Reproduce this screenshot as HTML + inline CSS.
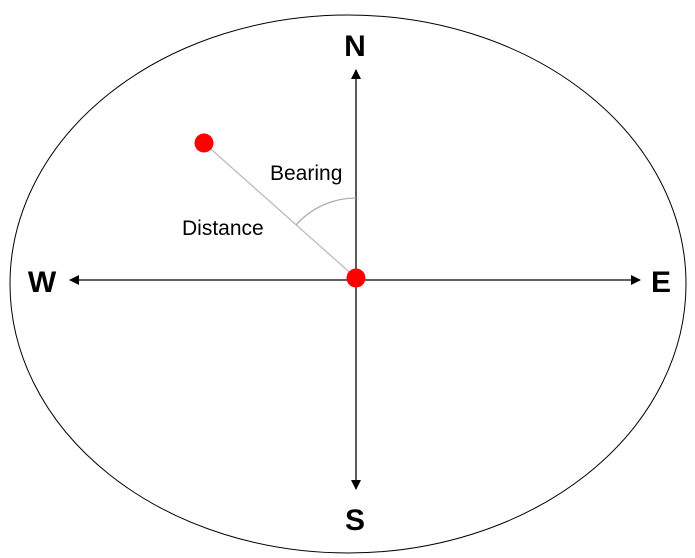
<!DOCTYPE html>
<html><head><meta charset="utf-8"><style>
html,body{margin:0;padding:0;background:#fff;width:695px;height:558px;overflow:hidden}
text{font-family:"Liberation Sans",sans-serif}
</style></head><body>
<svg width="695" height="558" viewBox="0 0 695 558">
<defs><marker id="ah" markerWidth="10" markerHeight="10" refX="9" refY="5" orient="auto" markerUnits="userSpaceOnUse"><path d="M0,0 L10,5 L0,10 z" fill="#000"/></marker></defs>
<ellipse cx="348" cy="284" rx="338" ry="269" fill="none" stroke="#000" stroke-width="1"/>
<line x1="356" y1="279" x2="356" y2="70" stroke="#000" stroke-width="1.3" marker-end="url(#ah)"/>
<line x1="356" y1="279" x2="356" y2="489" stroke="#000" stroke-width="1.3" marker-end="url(#ah)"/>
<line x1="356" y1="280" x2="70" y2="280" stroke="#000" stroke-width="1.3" marker-end="url(#ah)"/>
<line x1="356" y1="280" x2="640" y2="280" stroke="#000" stroke-width="1.3" marker-end="url(#ah)"/>
<line x1="204" y1="143" x2="356" y2="278" stroke="#bbb" stroke-width="1.3"/>
<path d="M356,198 A80,80 0 0 0 296,225" fill="none" stroke="#aaa" stroke-width="1.3"/>
<circle cx="204" cy="143" r="9.5" fill="#f00"/>
<circle cx="356" cy="278" r="9.5" fill="#f00"/>
<text x="270" y="180" font-size="21">Bearing</text>
<text x="182" y="235" font-size="21">Distance</text>
<text x="355" y="56" font-size="30" font-weight="bold" text-anchor="middle">N</text>
<text x="355" y="530" font-size="30" font-weight="bold" text-anchor="middle">S</text>
<text x="42" y="292" font-size="30" font-weight="bold" text-anchor="middle">W</text>
<text x="661" y="292" font-size="30" font-weight="bold" text-anchor="middle">E</text>
</svg>
</body></html>
